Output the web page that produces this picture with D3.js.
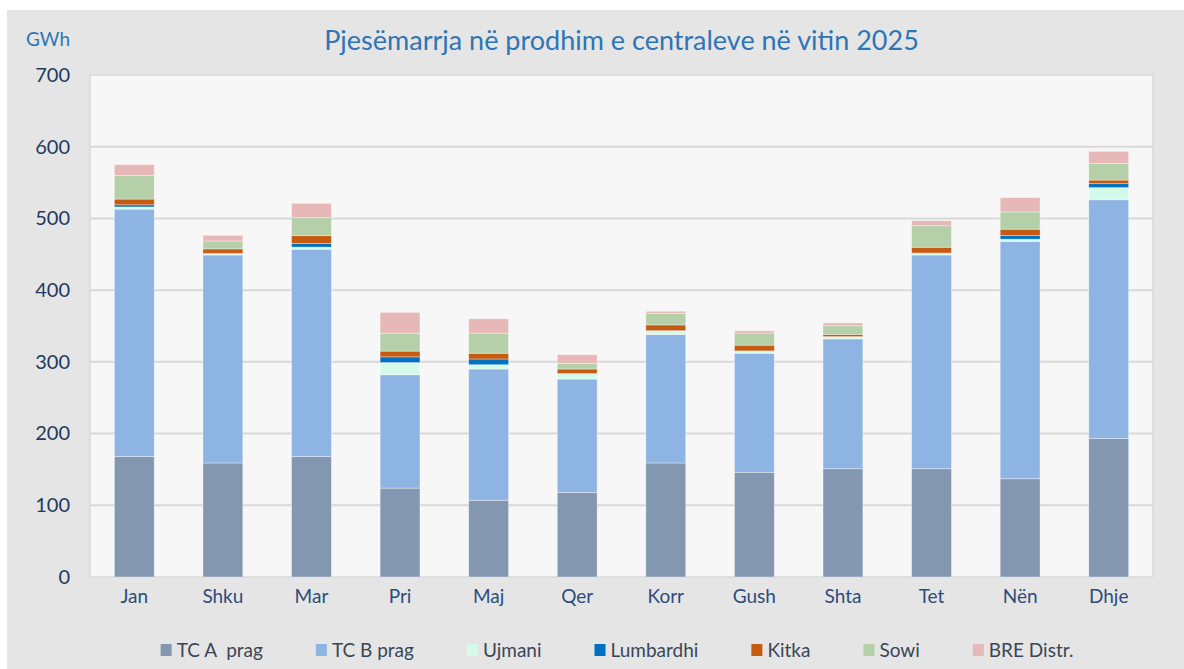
<!DOCTYPE html>
<html>
<head>
<meta charset="utf-8">
<script src="https://cdn.jsdelivr.net/npm/d3@7"></script>
<style>
  html, body { margin: 0; padding: 0; background: #fff; }
  svg { display: block; font-family: Lato, 'Open Sans', sans-serif; }
</style>
</head>
<body>
<svg id="chart" width="1184" height="669"></svg>
<script>
// months
const months = ['Jan', 'Shku', 'Mar', 'Pri', 'Maj', 'Qer', 'Korr', 'Gush', 'Shta', 'Tet', 'Nën', 'Dhje'];
const seriesNames = ['TC A  prag', 'TC B prag', 'Ujmani', 'Lumbardhi', 'Kitka', 'Sowi', 'BRE Distr.'];

// GWh per month
const tcA = [168, 159, 168, 124, 107, 118, 159, 146, 151, 151, 137, 193];
const tcB = [345, 290, 289, 158, 183, 158, 179, 166, 181, 298, 331, 333];
const ujmani = [3, 1.5, 3, 17, 6, 7, 5, 3, 3, 2.5, 3, 17];
const lumbardhi = [3, 1, 5, 8, 8, 1, 0.5, 0.3, 0.3, 0.3, 5, 5.5];
const kitka = [8, 6, 11, 8, 8, 6, 8, 8, 3, 8, 9, 5];
const sowi = [33, 11, 25, 25, 28, 8, 16, 17, 12, 30, 24, 23];
const bre = [15, 8, 20, 29, 20, 12, 3, 3, 4, 7, 20, 17];
const yTicks = [0, 100, 200, 300, 400, 500, 600, 700];

const colors = ['#8497b0', '#8eb4e3', '#d4fbe9', '#0070c0', '#c55a11', '#b5cfa8', '#e6b8b7'];

const rows = months.map((m, i) => ({
  month: m,
  'TC A  prag': tcA[i],
  'TC B prag': tcB[i],
  'Ujmani': ujmani[i],
  'Lumbardhi': lumbardhi[i],
  'Kitka': kitka[i],
  'Sowi': sowi[i],
  'BRE Distr.': bre[i]
}));

const svg = d3.select('#chart');
const plot = { left: 90, right: 1153, top: 75, bottom: 577 };

// outer panel
svg.append('rect')
  .attr('x', 7).attr('y', 10)
  .attr('width', 1177).attr('height', 659)
  .attr('fill', '#e5e5e5');

svg.append('rect')
  .attr('x', plot.left).attr('y', plot.top)
  .attr('width', plot.right - plot.left).attr('height', plot.bottom - plot.top)
  .attr('fill', '#f7f7f7')
  .attr('stroke', '#d9d9d9')
  .attr('stroke-width', 1.5);

const x = d3.scaleBand()
  .domain(months)
  .range([plot.left, plot.right])
  .paddingInner(0.55)
  .paddingOuter(0.275);

const y = d3.scaleLinear()
  .domain([0, 700])
  .range([plot.bottom, plot.top]);

// gridlines
svg.append('g')
  .selectAll('line')
  .data(yTicks.filter(t => t > 0 && t < 700))
  .join('line')
  .attr('x1', plot.left).attr('x2', plot.right)
  .attr('y1', d => y(d)).attr('y2', d => y(d))
  .attr('stroke', '#d9d9d9')
  .attr('stroke-width', 2);

const stack = d3.stack().keys(seriesNames);
const layers = stack(rows);

svg.append('g')
  .selectAll('g')
  .data(layers)
  .join('g')
  .attr('fill', (d, i) => colors[i])
  .selectAll('rect')
  .data(d => d)
  .join('rect')
  .attr('x', d => x(d.data.month))
  .attr('width', x.bandwidth())
  .attr('y', d => y(d[1]))
  .attr('height', d => y(d[0]) - y(d[1]))
  .attr('stroke', 'rgba(255,255,255,0.45)')
  .attr('stroke-width', 0.8);

// y axis
const yAxis = svg.append('g')
  .attr('transform', `translate(${plot.left - 20},0)`)
  .call(d3.axisLeft(y).tickValues(yTicks).tickSize(0).tickPadding(0));
yAxis.select('.domain').remove();
yAxis.selectAll('text')
  .attr('font-family', 'Lato, sans-serif')
  .attr('font-size', 20)
  .attr('fill', '#1f3a60');

// x axis
const xAxis = svg.append('g')
  .attr('transform', `translate(0,${plot.bottom})`)
  .call(d3.axisBottom(x).tickSize(0).tickPadding(13));
xAxis.select('.domain').remove();
xAxis.selectAll('text')
  .attr('font-family', 'Lato, sans-serif')
  .attr('font-size', 19)
  .attr('fill', '#2c4c7c');

// title and unit
svg.append('text')
  .attr('x', (plot.left + plot.right) / 2)
  .attr('y', 50)
  .attr('text-anchor', 'middle')
  .attr('font-size', 27)
  .attr('fill', '#2e75b6')
  .text('Pjesëmarrja në prodhim e centraleve në vitin 2025');

svg.append('text')
  .attr('x', 70)
  .attr('y', 46)
  .attr('text-anchor', 'end')
  .attr('font-size', 19)
  .attr('fill', '#2e75b6')
  .text('GWh');

// legend
const legend = svg.append('g');
const items = legend.selectAll('g')
  .data(seriesNames)
  .join('g');
items.append('rect')
  .attr('width', 11).attr('height', 12)
  .attr('y', -6)
  .attr('fill', (d, i) => colors[i]);
items.append('text')
  .attr('x', 16)
  .attr('y', 7)
  .attr('font-size', 19)
  .attr('fill', '#3a4656')
  .style('white-space', 'pre')
  .text(d => d);

let pos = 0;
const offsets = [];
items.each(function () {
  offsets.push(pos);
  const w = this.querySelector('text').getComputedTextLength();
  pos += 16 + w + 53;
});
const total = pos - 53;
const start = 617 - total / 2;
items.attr('transform', (d, i) => `translate(${start + offsets[i]},650)`);
</script>
</body>
</html>
